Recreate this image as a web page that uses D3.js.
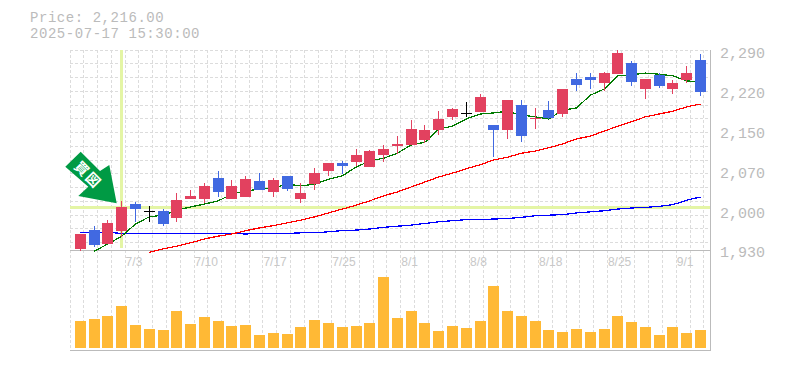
<!DOCTYPE html>
<html>
<head>
<meta charset="utf-8">
<script src="https://cdn.jsdelivr.net/npm/d3@7"></script>
<style>
  body { margin: 0; background: #fff; }
  text { font-family: "Liberation Mono", monospace; }
</style>
</head>
<body>
<div id="chart"></div>
<script>
const dates = ["6/27","6/30","7/1","7/2","7/3","7/4","7/7","7/8","7/9","7/10","7/11","7/14","7/15","7/16","7/17","7/18",
  "7/22","7/23","7/24","7/25","7/28","7/29","7/30","7/31","8/1","8/4","8/5","8/6","8/7","8/8","8/12","8/13","8/14","8/15",
  "8/18","8/19","8/20","8/21","8/22","8/25","8/26","8/27","8/28","8/29","9/1","9/2"];
const dateTicks = ["7/3","7/10","7/17","7/25","8/1","8/8","8/18","8/25","9/1"];
const priceTicks = [1930,2002,2074,2146,2218,2290];

const opens  = [1932,1966,1941,1964,2013,2001,2001,1988,2022,2022,2060,2022,2026,2055,2035,2064,2022,2049,2073,2087,2089,2080,2102,2118,2120,2129,2147,2171,2178,2180,2156,2147,2192,2167,2183,2176,2239,2243,2232,2248,2268,2221,2247,2221,2238,2274];
const highs  = [1959,1973,1984,2019,2017,2010,2004,2033,2039,2051,2073,2057,2064,2069,2060,2064,2051,2078,2087,2091,2113,2111,2120,2136,2165,2156,2181,2187,2198,2212,2156,2201,2201,2187,2200,2221,2250,2250,2252,2292,2272,2239,2250,2238,2263,2285];
const lows   = [1929,1936,1941,1954,1981,1981,1973,1981,2022,2015,2026,2022,2026,2039,2026,2037,2015,2039,2064,2067,2082,2080,2089,2104,2120,2124,2138,2165,2171,2180,2098,2131,2125,2149,2167,2171,2218,2221,2218,2248,2227,2203,2223,2212,2232,2209];
const closes = [1959,1939,1979,2008,2004,2001,1977,2020,2028,2046,2035,2046,2058,2039,2057,2040,2033,2069,2087,2082,2102,2109,2113,2122,2149,2147,2167,2185,2178,2207,2147,2201,2136,2169,2169,2221,2228,2238,2250,2286,2234,2239,2227,2232,2250,2216];
const volumes = [270,290,320,420,230,190,180,370,240,310,270,220,230,130,150,140,210,280,250,210,220,250,710,
  300,370,250,170,220,200,270,620,370,320,270,180,160,190,160,190,320,260,210,130,210,150,180];

const maShort = [null,1928,1941,1955,1977,1990,1993,2002,2008,2013,2019,2031,2037,2040,2042,2049,2046,2049,2058,2064,2080,2091,2096,2105,2120,2125,2149,2154,2167,2176,2178,2181,2174,2171,2167,2183,2187,2210,2221,2245,2247,2250,2248,2245,2236,2234];
const maMid = [null,null,null,null,null,1926,1932,1937,1943,1950,1955,1959,1965,1970,1974,1979,1984,1990,1997,2004,2011,2019,2028,2035,2044,2053,2062,2069,2077,2084,2093,2098,2105,2109,2115,2122,2131,2136,2145,2154,2162,2171,2176,2181,2189,2194];
const maLong = [1962,1962,1962,1960,1960,1960,1960,1960,1960,1960,1960,1960,1959,1960,1960,1960,1961,1961,1963,1965,1966,1968,1971,1973,1975,1978,1981,1983,1985,1985,1986,1987,1989,1992,1993,1994,1997,1999,2001,2004,2006,2007,2009,2012,2020,2026];

const markDate = "7/2";
const markPrice = 2008;

const chartW = 785, chartH = 370;
const plotLeft = 70, plotRight = 710, plotTop = 50, priceBottom = 250, volBase = 348, volBottom = 350;
const step = 13.78;
const candleOffset = 10.4, bodyW = 11;

const svg = d3.select("#chart").append("svg")
    .attr("width", chartW)
    .attr("height", chartH)
    .style("display", "block");

// x runs over the trading days, each day owns one grid cell
const xScale = d3.scaleLinear().domain([0, dates.length]).range([plotLeft, plotLeft + step * dates.length]);
const yScale = d3.scaleLinear().domain([1930, 2290]).range([priceBottom, 51]);
const volScale = d3.scaleLinear().domain([0, 710]).range([volBase, 277]);

const cx = i => xScale(i) + candleOffset;
const crisp = v => Math.floor(v) + 0.5;

// grid
const grid = svg.append("g")
    .attr("stroke", "#dcdcdc")
    .attr("stroke-dasharray", "3,2")
    .attr("shape-rendering", "crispEdges");

grid.selectAll(".vgrid")
    .data(d3.range(dates.length + 1))
    .enter().append("line")
    .attr("class", "vgrid")
    .attr("x1", d => crisp(xScale(d)))
    .attr("x2", d => crisp(xScale(d)))
    .attr("y1", plotTop)
    .attr("y2", volBottom);

grid.selectAll(".hgrid")
    .data(d3.range(15))
    .enter().append("line")
    .attr("class", "hgrid")
    .attr("x1", plotLeft)
    .attr("x2", plotRight)
    .attr("y1", d => crisp(plotTop + d * 13.76))
    .attr("y2", d => crisp(plotTop + d * 13.76));

// highlight cross on the marked candle
const markIdx = dates.indexOf(markDate);
const highlight = svg.append("g")
    .attr("stroke", "#e4f5a5")
    .attr("stroke-width", 3)
    .attr("shape-rendering", "crispEdges");
highlight.append("line")
    .attr("x1", crisp(cx(markIdx))).attr("x2", crisp(cx(markIdx)))
    .attr("y1", plotTop).attr("y2", 248);
highlight.append("line")
    .attr("x1", plotLeft).attr("x2", plotRight)
    .attr("y1", Math.round(yScale(markPrice)) + 0.5).attr("y2", Math.round(yScale(markPrice)) + 0.5);

// frame
const frame = svg.append("g").attr("stroke", "#bbb").attr("shape-rendering", "crispEdges");
frame.append("line").attr("x1", plotLeft).attr("x2", plotRight + 1).attr("y1", priceBottom + 0.5).attr("y2", priceBottom + 0.5);
frame.append("line").attr("x1", plotLeft).attr("x2", plotRight + 1).attr("y1", volBottom + 0.5).attr("y2", volBottom + 0.5);
frame.append("line").attr("x1", plotRight + 0.5).attr("x2", plotRight + 0.5).attr("y1", plotTop).attr("y2", volBottom + 1);

// moving averages
const maLine = d3.line()
    .defined(d => d !== null)
    .x((d, i) => cx(i))
    .y(d => yScale(d));

[[maLong, "#0000ff"], [maMid, "#ff0000"], [maShort, "#007a00"]].forEach(([values, color]) => {
    svg.append("path")
        .attr("d", maLine(values))
        .attr("fill", "none")
        .attr("stroke", color)
        .attr("stroke-width", 1.25)
        .attr("shape-rendering", "crispEdges");
});

// candles
const candleColor = i => closes[i] > opens[i] ? "#e2415f" : closes[i] < opens[i] ? "#4169e1" : "#000";

const candles = svg.append("g")
    .attr("shape-rendering", "crispEdges")
    .selectAll("g")
    .data(d3.range(dates.length))
    .enter().append("g");

candles.append("line")
    .attr("x1", i => crisp(cx(i)))
    .attr("x2", i => crisp(cx(i)))
    .attr("y1", i => yScale(highs[i]))
    .attr("y2", i => yScale(lows[i]))
    .attr("stroke", candleColor);

candles.append("rect")
    .attr("x", i => Math.floor(cx(i)) - 5)
    .attr("width", bodyW)
    .attr("y", i => Math.round(yScale(Math.max(opens[i], closes[i]))))
    .attr("height", i => Math.max(1, Math.round(Math.abs(yScale(opens[i]) - yScale(closes[i])))))
    .attr("fill", candleColor);

// volume
svg.append("g")
    .attr("shape-rendering", "crispEdges")
    .selectAll("rect")
    .data(volumes)
    .enter().append("rect")
    .attr("x", (d, i) => Math.floor(cx(i)) - 5)
    .attr("width", bodyW)
    .attr("y", d => volScale(d))
    .attr("height", d => volBase - volScale(d))
    .attr("fill", "#ffb935");

// axes
const priceAxis = d3.axisRight(yScale)
    .tickValues(priceTicks)
    .tickSize(0)
    .tickPadding(0)
    .tickFormat(d => d3.format(",")(Math.round(d / 10) * 10));

svg.append("g")
    .attr("transform", "translate(720,2)")
    .call(priceAxis)
    .call(g => g.select(".domain").remove())
    .selectAll("text")
    .attr("fill", "#bbb")
    .style("font-family", "'Liberation Mono', monospace")
    .style("font-size", "15px");

const dateAxis = d3.axisBottom(d3.scalePoint().domain(dates).range([xScale(0), xScale(dates.length - 1)]))
    .tickValues(dateTicks)
    .tickSize(0)
    .tickPadding(0);

svg.append("g")
    .attr("transform", `translate(0,${priceBottom + 7})`)
    .call(dateAxis)
    .call(g => g.select(".domain").remove())
    .selectAll("text")
    .attr("fill", "#c8c8c8")
    .attr("text-anchor", "start")
    .style("font-family", "'Liberation Sans', sans-serif")
    .style("font-size", "12px");

// price readout
svg.append("text").attr("x", 30).attr("y", 22)
    .attr("fill", "#bbb")
    .style("font-size", "14px")
    .style("letter-spacing", "0.55px")
    .text("Price: 2,216.00");
svg.append("text").attr("x", 30).attr("y", 38)
    .attr("fill", "#bbb")
    .style("font-size", "14px")
    .style("letter-spacing", "0.55px")
    .text("2025-07-17 15:30:00");

// signal arrow
svg.append("polygon")
    .attr("points", "65.3,166.7 80.7,151.7 100,171 109.3,165 116.7,203.3 78.3,196 88.3,186.7")
    .attr("fill", "#009a44");
svg.append("text")
    .attr("transform", "translate(88,175) rotate(45)")
    .attr("text-anchor", "middle")
    .attr("dy", "0.35em")
    .attr("fill", "#fff")
    .style("font-family", "'Noto Sans CJK JP', sans-serif")
    .style("font-weight", "700")
    .style("font-size", "14px")
    .style("letter-spacing", "2px")
    .text("買図");
</script>
</body>
</html>
